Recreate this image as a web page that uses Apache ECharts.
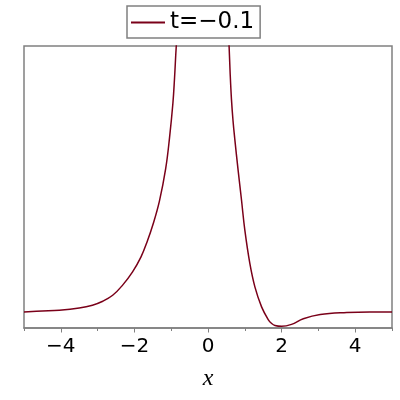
<!DOCTYPE html>
<html>
<head>
<meta charset="utf-8">
<script src="https://cdn.jsdelivr.net/npm/echarts@6/dist/echarts.min.js"></script>
<style>
  html, body { margin: 0; padding: 0; background: #fff; }
  #chart { width: 400px; height: 400px; }
</style>
</head>
<body>
<div id="chart"></div>
<script>
// curve, left branch / right branch (y in plot units 0..10)
var leftX = [-5, -4.5, -4.04, -3.5, -3.14, -2.86, -2.59, -2.32, -2.05, -1.82, -1.64, -1.5, -1.32, -1.15, -1.045, -0.955, -0.91, -0.862, -0.78];
var leftY = [0.57, 0.6, 0.63, 0.71, 0.81, 0.95, 1.16, 1.52, 1.99, 2.52, 3.11, 3.65, 4.5, 5.65, 6.75, 7.95, 8.85, 10.0, 11.5];
var rightX = [0.52, 0.573, 0.603, 0.638, 0.68, 0.728, 0.818, 0.911, 1.001, 1.137, 1.274, 1.456, 1.636, 1.73, 1.82, 2.0, 2.27, 2.59, 3.05, 3.77, 4.4, 5];
var rightY = [11.5, 10.0, 9.0, 8.1, 7.35, 6.7, 5.6, 4.53, 3.47, 2.29, 1.46, 0.75, 0.3, 0.16, 0.09, 0.06, 0.13, 0.33, 0.48, 0.55, 0.57, 0.57];
var majorTicks = [-4, -2, 0, 2, 4];
var minorTicks = [-5, -3, -1, 1, 3, 5];
var seriesName = 't=\u22120.1';

var data = [];
for (var i = 0; i < leftX.length; i++) data.push([leftX[i], leftY[i]]);
data.push([0, '-']);
for (var j = 0; j < rightX.length; j++) data.push([rightX[j], rightY[j]]);

function minus(v) {
  return v < 0 ? '\u2212' + Math.abs(v) : String(v);
}

var chart = echarts.init(document.getElementById('chart'));
var option = {
  animation: false,
  legend: {
    data: [{ name: seriesName, icon: 'rect' }],
    left: 127,
    top: 6,
    padding: [5, 6, 4, 4],
    borderColor: '#808080',
    borderWidth: 1.5,
    itemWidth: 34,
    itemHeight: 2,
    itemGap: 0,
    textStyle: { fontSize: 23, color: '#000', fontFamily: 'DejaVu Sans' }
  },
  grid: {
    left: 24, right: 8, top: 46, bottom: 72,
    show: true,
    borderColor: '#808080',
    borderWidth: 1.5
  },
  xAxis: [{
    type: 'value',
    min: -5, max: 5,
    name: 'x',
    nameLocation: 'middle',
    nameGap: 39,
    nameTextStyle: { fontSize: 24, fontStyle: 'italic', fontFamily: 'Liberation Serif', color: '#000' },
    axisLine: { lineStyle: { color: '#808080', width: 1.5 } },
    axisTick: { customValues: majorTicks, length: 4.5, lineStyle: { color: '#808080' } },
    axisLabel: {
      customValues: majorTicks,
      margin: 9,
      fontSize: 20,
      fontFamily: 'DejaVu Sans',
      color: '#000',
      formatter: minus
    },
    splitLine: { show: false }
  }, {
    type: 'value',
    position: 'bottom',
    min: -5, max: 5,
    axisLine: { show: false },
    axisTick: { customValues: minorTicks, length: 3, lineStyle: { color: '#808080' } },
    axisLabel: { show: false },
    splitLine: { show: false }
  }],
  yAxis: {
    type: 'value',
    min: 0, max: 10,
    show: false
  },
  series: [{
    name: seriesName,
    type: 'line',
    data: data,
    symbol: 'none',
    smooth: 0.4,
    clip: true,
    lineStyle: { color: '#7a0019', width: 1.5 },
    itemStyle: { color: '#7a0019' }
  }]
};
chart.setOption(option);
</script>
</body>
</html>
